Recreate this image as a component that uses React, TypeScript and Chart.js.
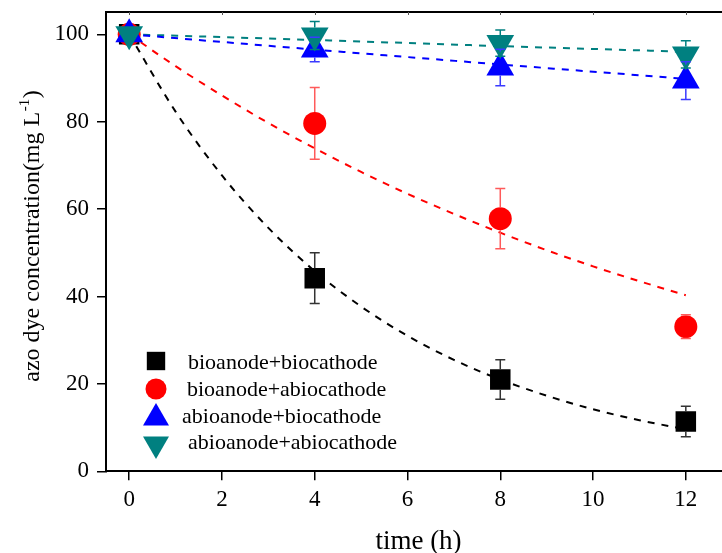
import React, { useEffect, useRef } from 'react';
import { Chart, registerables } from 'chart.js';

Chart.register(...registerables);

const FONT = '"Liberation Serif", "Times New Roman", serif';

// ---- data ----
const timeH = [0, 4, 8, 12];
const bioBio = [100, 44.2, 21.0, 11.4];
const bioBioErr = [0, 5.8, 4.5, 3.5];
const bioAbio = [100, 79.6, 57.8, 33.1];
const bioAbioErr = [0, 8.2, 6.9, 2.7];
const abioBio = [100, 96.5, 92.4, 89.4];
const abioBioErr = [0, 2.8, 4.2, 4.3];
const abioAbio = [100, 99.7, 98.0, 95.4];
const abioAbioErr = [0, 3.2, 3.0, 3.1];

const fitT = [0, 1, 2, 3, 4, 5, 6, 7, 8, 9, 10, 11, 12];
const fitBioBio = [100, 82.3, 67.7, 55.7, 45.8, 37.7, 31.0, 25.5, 21.0, 17.3, 14.2, 11.7, 9.6];
const fitBioAbio = [100, 92.7, 86.0, 79.7, 73.9, 68.5, 63.5, 58.9, 54.6, 50.6, 46.9, 43.5, 40.3];
const fitAbioBio = [100, 96.5, 93.1, 89.8];
const fitAbioAbio = [100, 98.7, 97.3, 96.0];

const seriesNames = [
  'bioanode+biocathode',
  'bioanode+abiocathode',
  'abioanode+biocathode',
  'abioanode+abiocathode',
];

const xTicks = [0, 2, 4, 6, 8, 10, 12];
const yTicks = [0, 20, 40, 60, 80, 100];

const xTitle = 'time (h)';
const yTitleMain = 'azo dye concentration(mg L';
const yTitleSup = '-1';
const yTitleEnd = ')';

const toXY = (xs: number[], ys: number[]) => xs.map((x, i) => ({ x, y: ys[i] }));

const COLORS = ['#000000', '#ff0000', '#0000ff', '#008080'];
const ERR_COLORS = ['#333333', '#ff5a5a', '#3a3aff', '#008080'];

function drawMarker(ctx: CanvasRenderingContext2D, style: string, x: number, y: number, r: number, color: string) {
  ctx.save();
  ctx.fillStyle = color;
  ctx.beginPath();
  if (style === 'rect') {
    const s = r * Math.SQRT1_2;
    ctx.rect(x - s, y - s, 2 * s, 2 * s);
  } else if (style === 'circle') {
    ctx.arc(x, y, r, 0, Math.PI * 2);
  } else if (style === 'triangle') {
    const w = r * Math.sin(Math.PI / 3);
    ctx.moveTo(x, y - r);
    ctx.lineTo(x + w, y + r / 2);
    ctx.lineTo(x - w, y + r / 2);
  } else if (style === 'down') {
    const w = r * Math.sin(Math.PI / 3);
    ctx.moveTo(x, y + r);
    ctx.lineTo(x + w, y - r / 2);
    ctx.lineTo(x - w, y - r / 2);
  }
  ctx.closePath();
  ctx.fill();
  ctx.restore();
}

const errSets = [bioBioErr, bioAbioErr, abioBioErr, abioAbioErr];
const valSets = [bioBio, bioAbio, abioBio, abioAbio];
const gaps = [[10, 10], [11.5, 11.5], [16, 8], [8, 16]];

const noPad = (s: any) => {
  s.paddingLeft = 0;
  s.paddingRight = 0;
  s.paddingTop = 0;
  s.paddingBottom = 0;
};

const extrasPlugin = {
  id: 'extras',
  afterDatasetsDraw(chart: any) {
    const ctx = chart.ctx as CanvasRenderingContext2D;
    const xs = chart.scales.x;
    const ys = chart.scales.y;
    ctx.save();
    ctx.lineWidth = 1.5;
    for (let d = 0; d < 4; d++) {
      ctx.strokeStyle = ERR_COLORS[d];
      for (let i = 0; i < timeH.length; i++) {
        const e = errSets[d][i];
        if (!e) continue;
        const px = xs.getPixelForValue(timeH[i]);
        const py = ys.getPixelForValue(valSets[d][i]);
        const pt = ys.getPixelForValue(valSets[d][i] + e);
        const pb = ys.getPixelForValue(valSets[d][i] - e);
        const [gt, gb] = gaps[d];
        ctx.beginPath();
        if (pt < py - gt) {
          ctx.moveTo(px, pt);
          ctx.lineTo(px, py - gt);
        }
        ctx.moveTo(px - 5, pt);
        ctx.lineTo(px + 5, pt);
        if (pb > py + gb) {
          ctx.moveTo(px, py + gb);
          ctx.lineTo(px, pb);
        }
        ctx.moveTo(px - 5, pb);
        ctx.lineTo(px + 5, pb);
        ctx.stroke();
      }
    }
    ctx.restore();
  },
  afterDraw(chart: any) {
    const ctx = chart.ctx as CanvasRenderingContext2D;
    const area = chart.chartArea;
    const xs = chart.scales.x;
    ctx.save();
    // top frame line with small inward ticks
    ctx.strokeStyle = '#000';
    ctx.lineWidth = 2;
    ctx.beginPath();
    ctx.moveTo(area.left - 1, area.top);
    ctx.lineTo(area.right, area.top);
    ctx.stroke();
    ctx.lineWidth = 1;
    ctx.strokeStyle = '#555';
    ctx.beginPath();
    for (const v of xTicks) {
      const px = Math.round(xs.getPixelForValue(v)) + 0.5;
      ctx.moveTo(px, area.top);
      ctx.lineTo(px, area.top + 3);
    }
    ctx.stroke();

    // legend
    const styles = ['rect', 'circle', 'triangle', 'down'];
    const radii = [13, 10.5, 15, 15];
    const my = [361, 389, 418, 444];
    const tx = [188, 187, 182, 188];
    const ty = [369, 396, 423, 449];
    ctx.font = `22px ${FONT}`;
    ctx.fillStyle = '#000';
    ctx.textBaseline = 'alphabetic';
    ctx.textAlign = 'left';
    for (let i = 0; i < 4; i++) {
      drawMarker(ctx, styles[i], 156, my[i], radii[i], COLORS[i]);
      ctx.fillStyle = '#000';
      ctx.fillText(seriesNames[i], tx[i], ty[i]);
    }

    // x title
    ctx.font = `27px ${FONT}`;
    ctx.textAlign = 'center';
    ctx.fillText(xTitle, 418.5, 549);

    // y title (rotated, with superscript)
    ctx.translate(39, 236);
    ctx.rotate(-Math.PI / 2);
    const big = `24px ${FONT}`;
    const small = `15px ${FONT}`;
    ctx.textAlign = 'left';
    ctx.font = big;
    const w1 = ctx.measureText(yTitleMain).width;
    const w3 = ctx.measureText(yTitleEnd).width;
    ctx.font = small;
    const w2 = ctx.measureText(yTitleSup).width;
    const total = w1 + w2 + w3 + 1;
    let x0 = -total / 2;
    ctx.font = big;
    ctx.fillText(yTitleMain, x0, 0);
    x0 += w1 + 0.5;
    ctx.font = small;
    ctx.fillText(yTitleSup, x0, -10);
    x0 += w2 + 0.5;
    ctx.font = big;
    ctx.fillText(yTitleEnd, x0, 0);
    ctx.restore();
  },
};

export default function App() {
  const ref = useRef<HTMLCanvasElement>(null);
  useEffect(() => {
    const lineDs = (data: any, color: string, tension: number) => ({
      type: 'line',
      data,
      borderColor: color,
      backgroundColor: color,
      borderWidth: 2,
      borderDash: [7, 7],
      pointRadius: 0,
      fill: false,
      tension,
      cubicInterpolationMode: 'monotone',
      order: 10,
    });
    const markDs = (label: string, data: any, color: string, style: string, r: number, rot: number, order: number) => ({
      type: 'scatter',
      label,
      data,
      backgroundColor: color,
      borderColor: color,
      borderWidth: 0,
      pointStyle: style,
      pointRadius: r,
      pointRotation: rot,
      pointHoverRadius: r,
      order,
    });
    const chart = new Chart(ref.current!, {
      type: 'scatter',
      data: {
        datasets: [
          markDs(seriesNames[0], toXY(timeH, bioBio), COLORS[0], 'rect', 14.5, 0, 3),
          markDs(seriesNames[1], toXY(timeH, bioAbio), COLORS[1], 'circle', 11.5, 0, 2),
          markDs(seriesNames[2], toXY(timeH, abioBio), COLORS[2], 'triangle', 16, 0, 1),
          markDs(seriesNames[3], toXY(timeH, abioAbio), COLORS[3], 'triangle', 16, 180, 0),
          lineDs(toXY(fitT, fitBioBio), COLORS[0], 0.4),
          lineDs(toXY(fitT, fitBioAbio), COLORS[1], 0.4),
          lineDs(toXY(timeH, fitAbioBio), COLORS[2], 0.4),
          lineDs(toXY(timeH, fitAbioAbio), COLORS[3], 0.4),
        ] as any,
      },
      options: {
        responsive: false,
        animation: false,
        devicePixelRatio: 1,
        layout: { autoPadding: false, padding: { top: 12, right: 0, left: 0, bottom: 0 } },
        plugins: {
          legend: { display: false },
          tooltip: { enabled: false },
        },
        events: [],
        scales: {
          x: {
            type: 'linear',
            min: -0.5,
            max: 12.78,
            afterBuildTicks: (s: any) => {
              s.ticks = xTicks.map((v) => ({ value: v }));
            },
            afterFit: (s: any) => {
              s.height = 81.7;
              noPad(s);
            },
            grid: { drawOnChartArea: false, drawTicks: true, tickLength: 9, color: '#000', lineWidth: 1.5 },
            border: { display: true, color: '#000', width: 2 },
            ticks: {
              font: { family: FONT, size: 23 },
              color: '#000',
              padding: 6,
              maxRotation: 0,
              autoSkip: false,
            },
          },
          y: {
            type: 'linear',
            min: 0,
            max: 105.1,
            afterBuildTicks: (s: any) => {
              s.ticks = yTicks.map((v) => ({ value: v }));
            },
            afterFit: (s: any) => {
              s.width = 106;
              noPad(s);
            },
            grid: { drawOnChartArea: false, drawTicks: true, tickLength: 9, color: '#000', lineWidth: 1.5 },
            border: { display: true, color: '#000', width: 2 },
            ticks: {
              font: { family: FONT, size: 23 },
              color: '#000',
              padding: 8,
              autoSkip: false,
            },
          },
        },
      } as any,
      plugins: [extrasPlugin],
    } as any);
    return () => chart.destroy();
  }, []);
  return (
    <canvas
      ref={ref}
      width={722}
      height={553}
      style={{ position: 'absolute', left: 0, top: 0, display: 'block', width: 722, height: 553 }}
    />
  );
}
